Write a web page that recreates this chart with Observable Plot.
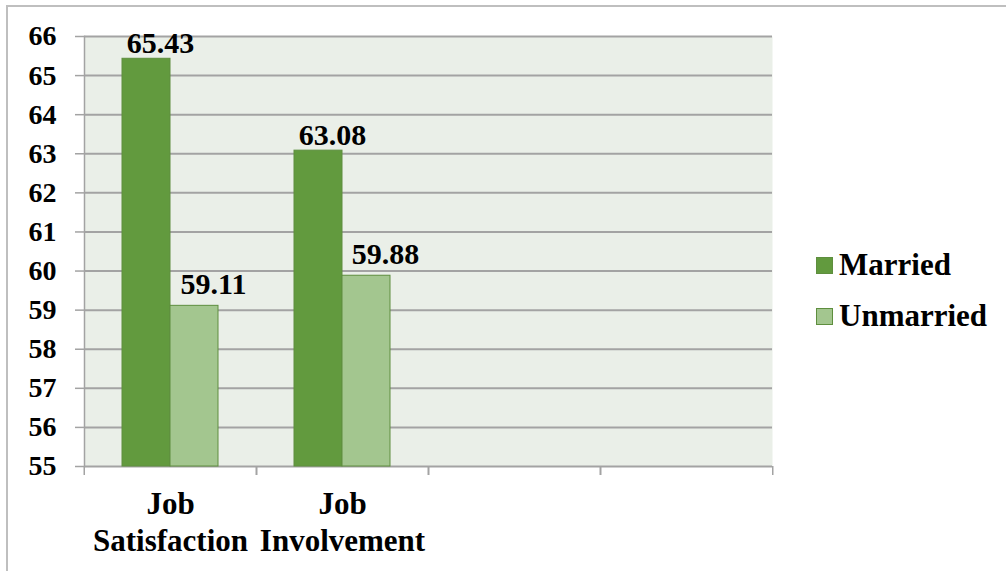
<!DOCTYPE html>
<html><head><meta charset="utf-8">
<script src="https://cdn.jsdelivr.net/npm/d3@7"></script>
<script src="https://cdn.jsdelivr.net/npm/@observablehq/plot@0.6"></script>
<style>
body{margin:0;background:#fff}
#wrap{position:relative;width:1006px;height:571px;overflow:hidden;background:#fff}
#border{position:absolute;left:6px;top:5px;right:-10px;bottom:-10px;border-top:2px solid #BFBFBF;border-left:2px solid #BFBFBF;pointer-events:none}
#chart{position:absolute;left:0;top:0}
.item{position:absolute;left:816px;height:34px;display:flex;align-items:center;font-weight:bold;font-size:31px;font-family:'Liberation Serif','Tinos','DejaVu Serif',serif;color:#000;white-space:nowrap}
.sw{width:15px;height:15px;border:1px solid #5E8E3E;margin-right:6px;flex:none}
</style></head>
<body><div id="wrap"><div id="chart"></div><div id="legend"></div><div id="border"></div></div>
<script>
const categories = ["Job\nSatisfaction", "Job\nInvolvement", "", " "];
const series = ["Married", "Unmarried"];
const married = [65.43, 63.08];
const unmarried = [59.11, 59.88];
const yTicks = [55, 56, 57, 58, 59, 60, 61, 62, 63, 64, 65, 66];
const colors = ["#629A3E", "#A3C68F"];

const data = [];
married.forEach((v, i) => data.push({category: categories[i], series: series[0], value: v}));
unmarried.forEach((v, i) => data.push({category: categories[i], series: series[1], value: v}));
const gridData = categories.flatMap(c => yTicks.map(t => ({category: c, tick: t})));

const W = 1006, H = 571, mL = 83, mR = 233, mT = 36, mB = 105;
const half = (W - mL - mR) / categories.length / 2;
const font = "'Liberation Serif', 'Tinos', 'DejaVu Serif', serif";
const grid = "#A3A3A3";

const chart = Plot.plot({
  width: W, height: H,
  marginLeft: mL, marginRight: mR, marginTop: mT, marginBottom: mB,
  style: {background: "transparent", fontFamily: font, fontWeight: "bold", color: "#000"},
  fx: {domain: categories, padding: 0, axis: null, label: null},
  x: {domain: series, paddingInner: 0, paddingOuter: 0.76, axis: null},
  y: {domain: [yTicks[0], yTicks[yTicks.length - 1]], axis: null},
  color: {domain: series, range: colors},
  marks: [
    Plot.frame({facet: "super", fill: "#EAEFE8", stroke: null}),
    Plot.ruleY(gridData, {fx: "category", y: "tick", stroke: grid, strokeWidth: 2}),
    Plot.frame({facet: "super", anchor: "left", stroke: grid, strokeWidth: 1.5}),
    Plot.axisY({ticks: yTicks, tickSize: 9, tickPadding: 19, stroke: grid, strokeWidth: 1.5, fill: "#000",
      fontSize: 28, fontWeight: "bold", fontFamily: font, label: null}),
    Plot.axisFx({anchor: "bottom", tickSize: 9, dx: -half, tickFormat: () => "", stroke: grid, strokeWidth: 1.5, label: null}),
    Plot.axisFx({anchor: "bottom", tickSize: 9, dx: half, tickFormat: () => "", stroke: grid, strokeWidth: 1.5, label: null}),
    Plot.axisFx({anchor: "bottom", tickSize: 0, tickPadding: 21, fill: "#000", fontSize: 31, fontWeight: "bold",
      fontFamily: font, lineHeight: 1.2, label: null}),
    Plot.barY(data, {fx: "category", x: "series", y1: yTicks[0], y2: "value", fill: "series", stroke: "#5E8E3E", strokeWidth: 1}),
    Plot.text(data.filter(d => d.series === series[0]), {fx: "category", x: "series", y: "value",
      text: d => d.value.toFixed(2), lineAnchor: "bottom", dx: 14, dy: -6, fontSize: 30, fontWeight: "bold", fontFamily: font, fill: "#000"}),
    Plot.text(data.filter(d => d.series === series[1]), {fx: "category", x: "series", y: "value",
      text: d => d.value.toFixed(2), lineAnchor: "bottom", dx: 19, dy: -12, fontSize: 30, fontWeight: "bold", fontFamily: font, fill: "#000"})
  ]
});
document.getElementById("chart").appendChild(chart);

const legend = document.getElementById("legend");
series.forEach((s, i) => {
  const item = document.createElement("div");
  item.className = "item";
  item.style.top = (248 + i * 51) + "px";
  const sw = document.createElement("span");
  sw.className = "sw";
  sw.style.background = colors[i];
  item.appendChild(sw);
  item.appendChild(document.createTextNode(s));
  legend.appendChild(item);
});
</script>
</body></html>
